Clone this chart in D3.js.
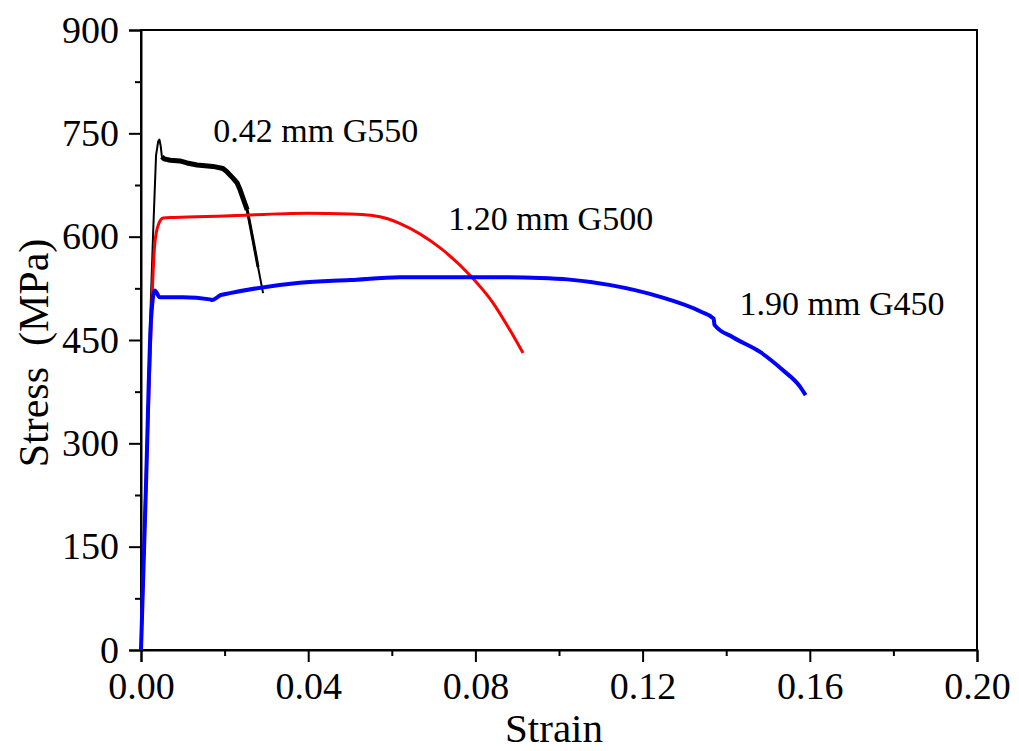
<!DOCTYPE html>
<html>
<head>
<meta charset="utf-8">
<script src="https://cdn.jsdelivr.net/npm/d3@7"></script>
<style>
  body { margin: 0; background: #fff; }
  svg text { font-family: "Liberation Serif", "Times New Roman", serif; fill: #000; }
</style>
</head>
<body>
<svg id="chart" width="1019" height="751"></svg>
<script>
// axis ticks
const xTicks = [0, 0.04, 0.08, 0.12, 0.16, 0.20];
const yTicks = [0, 150, 300, 450, 600, 750, 900];

// 0.42 mm G550 (black) - [strain, stress]
const g550Strain = [0, 0.0012, 0.0022, 0.0029, 0.0036, 0.0041, 0.0044, 0.0047, 0.005, 0.0055, 0.007, 0.0093, 0.011, 0.0134, 0.0172, 0.0196, 0.0206, 0.022, 0.023, 0.0237, 0.0254, 0.0268, 0.028, 0.0292];
const g550Stress = [0, 250, 480, 605, 718, 738, 741, 732, 716, 713, 711, 710, 707, 704, 702, 699, 694, 685, 678, 668, 639, 595, 556, 518];
// noisy plateau part (drawn thicker)
const g550NoisyFrom = 8, g550NoisyTo = 20;

// 1.20 mm G500 (red)
const g500Strain = [0, 0.0012, 0.0022, 0.0027, 0.0033, 0.0042, 0.0053, 0.008, 0.02, 0.0397, 0.05, 0.055, 0.059, 0.062, 0.0715, 0.0787, 0.0842, 0.0883, 0.0914];
const g500Stress = [0, 245, 430, 520, 590, 618, 627, 628, 630, 634, 633, 631, 626, 619, 584, 544, 504, 464, 431];

// 1.90 mm G450 (blue)
const g450Strain = [0, 0.0012, 0.0024, 0.0033, 0.0045, 0.01, 0.0165, 0.017, 0.019, 0.0213, 0.038, 0.05, 0.062, 0.0787, 0.086, 0.0955, 0.102, 0.112, 0.124, 0.134, 0.137, 0.1372, 0.1416, 0.148, 0.1536, 0.1577, 0.159];
const g450Stress = [0, 240, 480, 522, 512, 512, 509, 508, 515, 518, 533, 537, 541, 541, 541, 540, 538, 530, 513, 491, 481, 472, 454, 433, 406, 382, 370];

const labels = ["0.42 mm G550", "1.20 mm G500", "1.90 mm G450"];

const svg = d3.select("#chart"),
      margin = {top: 30, right: 42, bottom: 101, left: 141},
      width = 1019 - margin.left - margin.right,
      height = 751 - margin.top - margin.bottom,
      g = svg.append("g").attr("transform", `translate(${margin.left},${margin.top})`);

const x = d3.scaleLinear().domain([0, 0.20]).range([0, width]);
const y = d3.scaleLinear().domain([0, 900]).range([height, 0]);

const line = d3.line().x(d => x(d[0])).y(d => y(d[1]));
const smooth = d3.line().x(d => x(d[0])).y(d => y(d[1])).curve(d3.curveMonotoneX);
const zip = (a, b) => a.map((v, i) => [v, b[i]]);

// frame
g.append("rect").attr("width", width).attr("height", height)
  .attr("fill", "none").attr("stroke", "#000").attr("stroke-width", 2);

// x axis
const xAxis = g.append("g").attr("transform", `translate(0,${height})`)
  .call(d3.axisBottom(x).tickValues(xTicks).tickFormat(d3.format(".2f")).tickSize(12).tickPadding(10));
g.append("g").attr("transform", `translate(0,${height})`)
  .call(d3.axisBottom(x).tickValues([0.02, 0.06, 0.10, 0.14, 0.18]).tickFormat("").tickSize(6))
  .call(a => a.select(".domain").remove());

// y axis
const yAxis = g.append("g")
  .call(d3.axisLeft(y).tickValues(yTicks).tickSize(12).tickPadding(10));
g.append("g")
  .call(d3.axisLeft(y).tickValues([75, 225, 375, 525, 675, 825]).tickFormat("").tickSize(6))
  .call(a => a.select(".domain").remove());

svg.selectAll(".tick line").attr("stroke", "#000").attr("stroke-width", 2);
svg.selectAll(".domain").attr("stroke", "#000").attr("stroke-width", 2);
svg.selectAll(".tick text").style("font-size", "38px").style("font-family", "Liberation Serif, serif");
xAxis.selectAll(".tick text").attr("dy", "0.71em");

// curves
const g550 = zip(g550Strain, g550Stress);
g.append("path").datum(g550).attr("d", line)
  .attr("fill", "none").attr("stroke", "#000").attr("stroke-width", 2).attr("stroke-linejoin", "round");
g.append("path").datum(g550.slice(g550NoisyFrom, g550NoisyTo + 1)).attr("d", line)
  .attr("fill", "none").attr("stroke", "#000").attr("stroke-width", 5).attr("stroke-linejoin", "round");
g.append("path").datum(g550.slice(g550NoisyTo, g550NoisyTo + 3)).attr("d", line)
  .attr("fill", "none").attr("stroke", "#000").attr("stroke-width", 3).attr("stroke-linejoin", "round");

g.append("path").datum(zip(g500Strain, g500Stress)).attr("d", smooth)
  .attr("fill", "none").attr("stroke", "#ff0000").attr("stroke-width", 3);

g.append("path").datum(zip(g450Strain, g450Stress)).attr("d", smooth)
  .attr("fill", "none").attr("stroke", "#0000ff").attr("stroke-width", 4).attr("stroke-linejoin", "round");

// curve labels
const labelPos = [[0.0173, 741 - 4], [0.0735, 615 - 6], [0.1432, 492 - 6]];
labels.forEach((t, i) => {
  g.append("text").attr("x", x(labelPos[i][0])).attr("y", y(labelPos[i][1]))
    .style("font-size", "34px").text(t);
});

// axis titles
svg.append("text").attr("x", margin.left + width / 2 - 5).attr("y", 742)
  .attr("text-anchor", "middle").style("font-size", "41px").text("Strain");
svg.append("text").attr("transform", "translate(48,353) rotate(-90)")
  .attr("text-anchor", "middle").style("font-size", "42px").style("white-space", "pre")
  .text("Stress  (MPa)");
</script>
</body>
</html>
